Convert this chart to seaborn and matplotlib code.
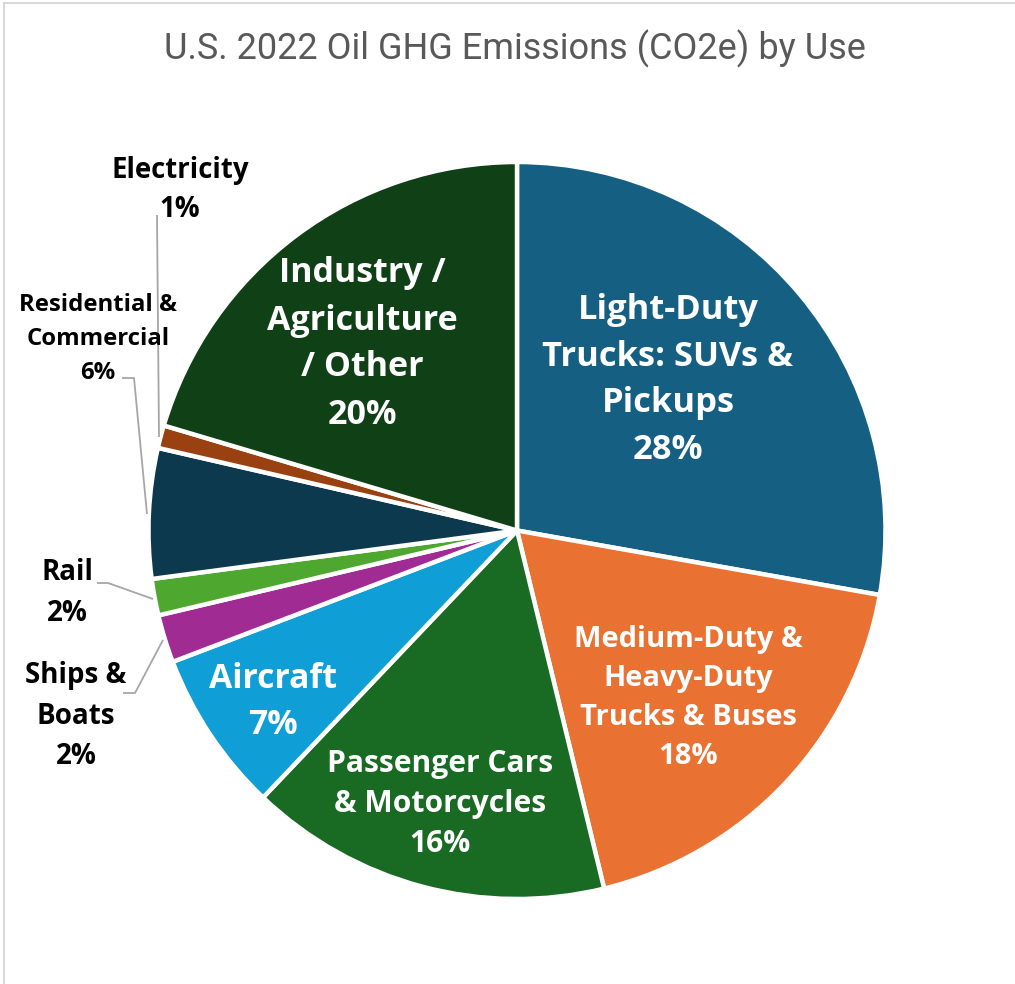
import matplotlib
matplotlib.use("Agg")
import matplotlib.pyplot as plt
import seaborn as sns
from matplotlib.patches import Rectangle

# ---- data -------------------------------------------------------------
categories = [
    "Light-Duty\nTrucks: SUVs &\nPickups",
    "Medium-Duty &\nHeavy-Duty\nTrucks & Buses",
    "Passenger Cars\n& Motorcycles",
    "Aircraft",
    "Ships &\nBoats",
    "Rail",
    "Residential &\nCommercial",
    "Electricity",
    "Industry /\nAgriculture\n/ Other",
]
shares = [27.8, 18.4, 15.9, 7.1, 2.1, 1.6, 5.7, 1.0, 20.4]
slice_colors = ["#156082", "#E97132", "#196B24", "#0F9ED5", "#A02B93",
                "#4EA72E", "#0D394E", "#994111", "#0F4016"]
title = "U.S. 2022 Oil GHG Emissions (CO2e) by Use"

# ---- style ------------------------------------------------------------
sns.set_theme(style="white")
plt.rcParams["font.family"] = ["Open Sans", "DejaVu Sans"]
palette = sns.color_palette(slice_colors)

W, H = 1015, 984
fig = plt.figure(figsize=(W / 100, H / 100), dpi=100)
ax = fig.add_axes([0, 0, 1, 1])

def py(y):
    """Convert a top-down pixel row to the upward axis coordinate."""
    return H - y

cx, cy, r = 517, py(530.5), 368.5
ax.pie(shares, colors=palette, startangle=90, counterclock=False,
       center=(cx, cy), radius=r,
       wedgeprops=dict(edgecolor="white", linewidth=3.2))
ax.set_xlim(0, W)
ax.set_ylim(0, H)
ax.set_aspect("auto")
ax.axis("off")

# chart-area border
ax.add_patch(Rectangle((4, -20), W + 20, py(3) + 20, fill=False,
                       edgecolor="#D9D9D9", linewidth=1.5, zorder=0))

# title
ax.text(515, py(49), title, ha="center", va="center", fontsize=26,
        color="#595959", family=["Roboto", "DejaVu Sans"])

# slice labels, in slice order: (x, y, fontsize, linespacing, color)
label_style = [
    (668, 380, 24.8, 1.48, "white"),   # light-duty
    (688, 698, 21.0, 1.46, "white"),   # medium/heavy
    (440, 804, 21.6, 1.44, "white"),   # passenger
    (273, 702, 24.3, 1.48, "white"),   # aircraft
    (76, 716, 20.0, 1.52, "black"),    # ships
    (67, 593, 20.0, 1.52, "black"),    # rail
    (98, 339, 17.2, 1.53, "black"),    # residential
    (180, 190, 19.8, 1.46, "black"),   # electricity
    (362, 344, 24.5, 1.50, "white"),   # industry
]
for cat, val, (x, y, fs, ls, col) in zip(categories, shares, label_style):
    ax.text(x, py(y), f"{cat}\n{val:.0f}%", ha="center", va="center",
            multialignment="center", fontsize=fs, fontweight="bold",
            color=col, linespacing=ls)

# leader lines for the narrow outer slices
leaders = [
    [(123, 693), (135, 693), (163, 640)],
    [(97, 583), (108, 583), (153, 599)],
    [(122, 378), (134, 378), (147, 514)],
    [(157, 215), (159, 437)],
]
for path in leaders:
    xs = [p[0] for p in path]
    ys = [py(p[1]) for p in path]
    ax.plot(xs, ys, color="#A6A6A6", linewidth=1.3, solid_capstyle="butt")

fig.savefig("out.png", dpi=100, facecolor="white")
